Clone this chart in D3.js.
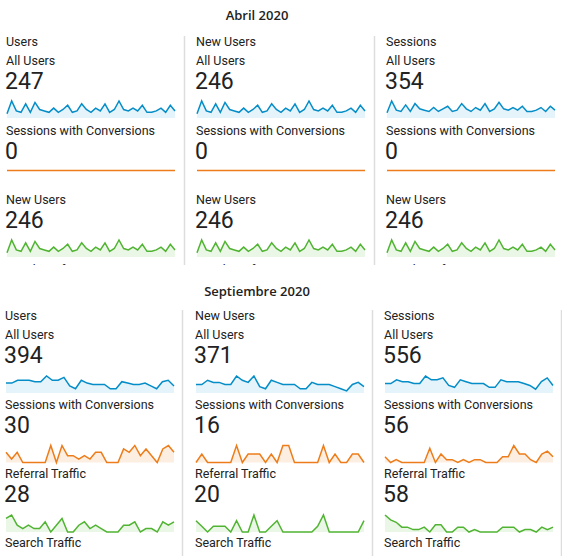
<!DOCTYPE html>
<html><head><meta charset="utf-8">
<script src="https://cdn.jsdelivr.net/npm/d3@7"></script>
<style>body{margin:0;background:#fff}text{font-family:Roboto,"Noto Sans",sans-serif;fill:#222}</style>
</head><body><svg id="c" width="562" height="556"></svg>
<script>
const titles = ["Abril 2020", "Septiembre 2020"];
const columnNames = ["Users", "New Users", "Sessions"];
// April
const aprMetrics = ["All Users", "Sessions with Conversions", "New Users"];
const aprTotals = [[247, 0, 246], [246, 0, 246], [354, 0, 246]];
const aprUsers = [3,12,5,4,10,4,11,6,5,4,7,4,6,9,4,5,10,6,4,7,5,10,4,6,12,6,5,7,5,9,4,4,5,7,4,9,5];
const aprNewUsers = [3,12,5,4,10,4,11,6,5,4,7,4,6,9,4,5,10,6,4,7,5,10,4,6,12,6,5,7,5,9,4,4,5,7,4,9,5];
const aprSessions = [4,13,6,5,10,5,11,7,6,5,8,5,7,9,5,6,11,7,5,8,6,11,5,7,12,7,6,8,6,9,5,5,6,8,5,9,6];
const aprZero = new Array(37).fill(0);
// September
const sepMetrics = ["All Users", "Sessions with Conversions", "Referral Traffic"];
const sepTotals = [[394, 30, 28], [371, 16, 20], [556, 56, 58]];
const sepBlue = [
 [7,7,9,9,9,8,8,12,9,9,11,5,3,9,7,6,6,6,3,3,8,7,6,6,7,5,3,8,9,5],
 [4,4,6,5,5,4,4,8,6,5,8,3,2,6,5,4,4,4,2,2,5,4,4,4,3,2,1,4,5,3],
 [5,5,7,6,6,5,5,9,7,7,8,4,3,7,6,5,5,5,3,3,7,6,6,6,5,4,2,6,8,4]];
const sepOrange = [
 [3,1,3,0,0,0,0,0,5,0,5,2,2,1,2,1,3,3,0,0,0,4,3,5,2,4,2,0,4,5,3],
 [0,1,0,0,0,0,0,2,0,1,1,1,0,1,0,2,2,0,0,0,0,0,2,0,1,0,0,1,1,0],
 [2,0,1,0,0,0,0,0,5,0,3,1,1,0,1,0,1,1,0,0,0,2,2,6,3,3,1,0,3,4,2]];
const sepGreen = [
 [4,5,2,1,2,1,1,3,0,2,4,0,0,2,3,1,2,1,0,0,0,2,2,3,0,1,1,0,3,2,3],
 [2,1,0,1,1,1,0,2,0,0,3,0,0,1,2,0,0,0,0,0,0,1,3,0,0,0,0,0,0,2],
 [7,5,4,2,2,1,1,2,0,3,3,0,0,2,2,0,1,0,0,0,0,2,2,2,0,1,1,0,2,1,2]];
const extraLabels = ["Number of Sessions", "Search Traffic"];

const colors = {blue:["#058dc7","#e5f3fa"], orange:["#ed7d1a","#fdeee2"], green:["#50b432","#eaf6e6"]};
const svg = d3.select("#c");

function spark(g, data, x0, y0, w, h, col) {
  const x = d3.scaleLinear().domain([0, data.length-1]).range([x0, x0+w]);
  const mx = d3.max(data) || 1;
  const y = d3.scaleLinear().domain([0, mx]).range([y0+h, y0]);
  g.append("path").attr("d", d3.area().x((d,i)=>x(i)).y0(y0+h).y1(d=>y(d))(data)).attr("fill", col[1]);
  g.append("path").attr("d", d3.line().x((d,i)=>x(i)).y(d=>y(d))(data)).attr("fill","none").attr("stroke", col[0]).attr("stroke-width",1.5);
}

svg.append("text").attr("x",257).attr("y",20).attr("text-anchor","middle").style("font-family","'Open Sans'").style("font-weight",600).style("font-size","13px").text(titles[0]);
svg.append("text").attr("x",257).attr("y",296).attr("text-anchor","middle").style("font-family","'Open Sans'").style("font-weight",600).style("font-size","13px").text(titles[1]);

svg.append("defs").append("clipPath").attr("id","topclip").append("rect").attr("x",0).attr("y",0).attr("width",562).attr("height",265);

const topG = svg.append("g").attr("clip-path","url(#topclip)");
const topX = [5,195,385];
const aprSeries = [[aprUsers,aprZero,aprNewUsers],[aprNewUsers,aprZero,aprNewUsers],[aprSessions,aprZero,aprNewUsers]];
const rowCols = [colors.blue, colors.orange, colors.green];
topX.forEach((x0,c)=>{
  const g = topG.append("g");
  g.append("text").attr("x",x0+1).attr("y",46).style("font-size","12.5px").text(columnNames[c]);
  for (let r=0;r<3;r++){
    const b = 65 + r*69.5;
    g.append("text").attr("x",x0+1).attr("y",b).style("font-size","12.5px").text(aprMetrics[r]);
    g.append("text").attr("x",x0).attr("y",b+24).style("font-size","23px").text(aprTotals[c][r]);
    spark(g, aprSeries[c][r], x0+2, b+36, 168, r===1?0.1:17, rowCols[r]);
  }
  g.append("text").attr("x",x0+1).attr("y",274).style("font-size","12.5px").text(extraLabels[0]);
  if (c<2) svg.append("line").attr("x1",x0+179.5).attr("x2",x0+179.5).attr("y1",36).attr("y2",265).attr("stroke","#ddd").attr("stroke-width",1.5);
});

const botX = [4,194,383];
botX.forEach((x0,c)=>{
  const g = svg.append("g");
  g.append("text").attr("x",x0+1).attr("y",320).style("font-size","12.5px").text(columnNames[c]);
  const ser = [sepBlue[c], sepOrange[c], sepGreen[c]];
  for (let r=0;r<3;r++){
    const b = 339 + r*69.5;
    g.append("text").attr("x",x0+1).attr("y",b).style("font-size","12.5px").text(sepMetrics[r]);
    g.append("text").attr("x",x0).attr("y",b+24).style("font-size","23px").text(sepTotals[c][r]);
    spark(g, ser[r], x0+2, b+37, 168, 17, rowCols[r]);
  }
  g.append("text").attr("x",x0+1).attr("y",547).style("font-size","12.5px").text(extraLabels[1]);
  svg.append("line").attr("x1",x0+178.5).attr("x2",x0+178.5).attr("y1",310).attr("y2",556).attr("stroke","#ddd").attr("stroke-width",1.5);
});
</script></body></html>
